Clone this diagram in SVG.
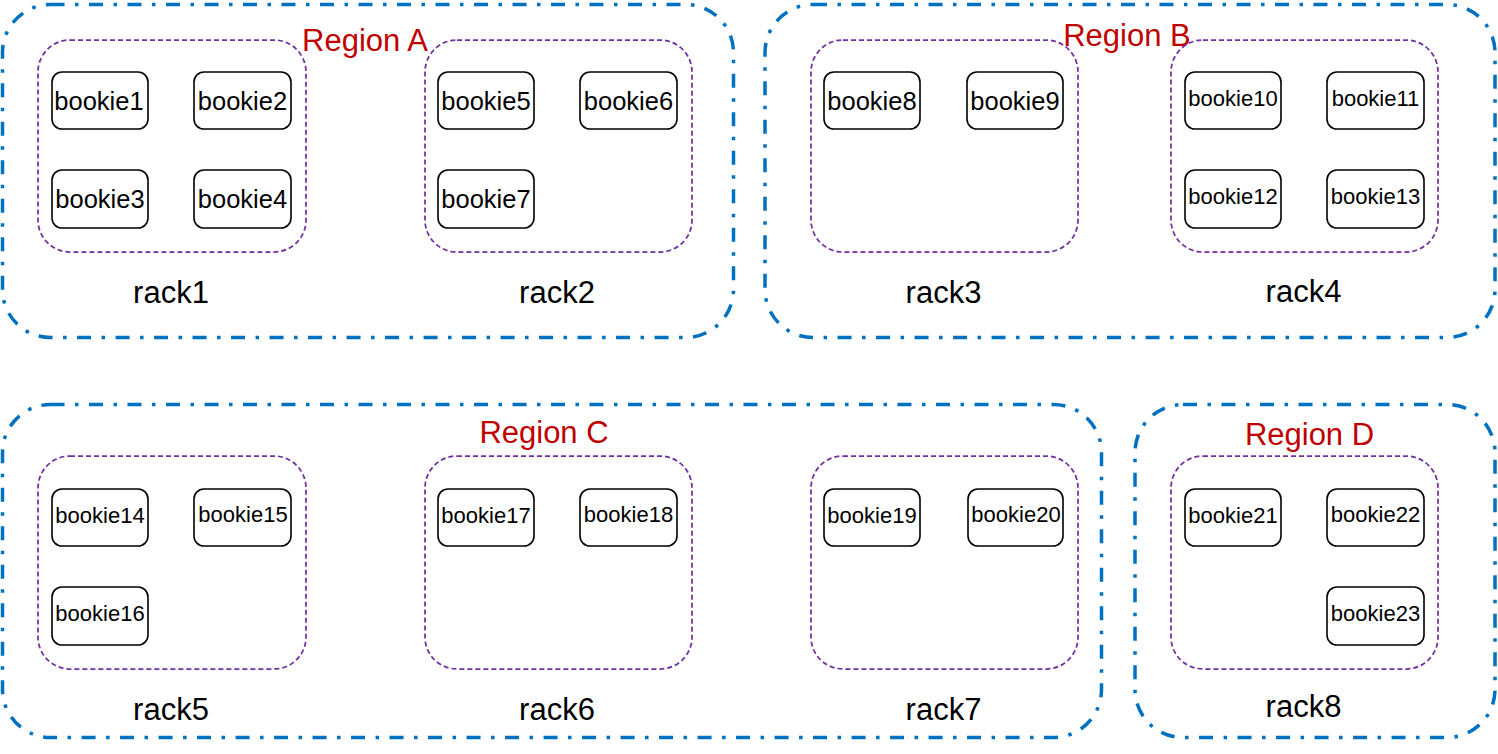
<svg xmlns="http://www.w3.org/2000/svg" width="1498" height="754" viewBox="0 0 1498 754">
<style>
.region{fill:none;stroke:#0070C0;stroke-width:3.5;stroke-dasharray:14 10.5 3.5 10.5}
.rack{fill:none;stroke:#7030A0;stroke-width:1.75;stroke-dasharray:5 3}
.bk{fill:#fff;stroke:#000;stroke-width:1.6}
text{font-family:"Liberation Sans",Arial,sans-serif;text-anchor:middle;fill:#000}
.t1{font-size:25.5px}
.t2{font-size:22px}
.rl{font-size:31px}
.rg{font-size:31px;fill:#C00000}
</style>
<rect width="1498" height="754" fill="#fff"/>
<g id="regions">
<g id="regionA"><rect class="region" x="2.5" y="4.5" width="731" height="333" rx="48"/><text class="rg" x="365" y="51">Region A</text></g>
<g id="regionB"><rect class="region" x="765" y="4.5" width="730" height="333" rx="48"/><text class="rg" x="1127" y="46">Region B</text></g>
<g id="regionC"><rect class="region" x="2.5" y="404.5" width="1099" height="333" rx="48"/><text class="rg" x="544" y="443">Region C</text></g>
<g id="regionD"><rect class="region" x="1135" y="404.5" width="360" height="333" rx="48"/><text class="rg" x="1309.5" y="445">Region D</text></g>
</g>
<g id="racks">
<g id="rack1"><rect class="rack" x="38" y="40" width="268" height="212" rx="32"/><text class="rl" x="171" y="303">rack1</text></g>
<g id="rack2"><rect class="rack" x="425" y="40" width="267" height="212" rx="32"/><text class="rl" x="557" y="303">rack2</text></g>
<g id="rack3"><rect class="rack" x="811" y="40" width="267" height="212" rx="32"/><text class="rl" x="943.5" y="303">rack3</text></g>
<g id="rack4"><rect class="rack" x="1171" y="40" width="267" height="212" rx="32"/><text class="rl" x="1303.5" y="302">rack4</text></g>
<g id="rack5"><rect class="rack" x="38" y="456" width="268" height="213" rx="32"/><text class="rl" x="171" y="720">rack5</text></g>
<g id="rack6"><rect class="rack" x="425" y="456" width="267" height="213" rx="32"/><text class="rl" x="557" y="720">rack6</text></g>
<g id="rack7"><rect class="rack" x="811" y="456" width="267" height="213" rx="32"/><text class="rl" x="943.5" y="720">rack7</text></g>
<g id="rack8"><rect class="rack" x="1171" y="456" width="267" height="213" rx="32"/><text class="rl" x="1303.5" y="717">rack8</text></g>
</g>
<g id="bookies">
<g id="bookie1"><rect class="bk" x="52" y="72" width="96" height="57" rx="10"/><text class="t1" x="99" y="110">bookie1</text></g>
<g id="bookie2"><rect class="bk" x="194" y="72" width="97" height="57" rx="10"/><text class="t1" x="242.5" y="110">bookie2</text></g>
<g id="bookie3"><rect class="bk" x="52" y="170" width="96" height="58" rx="10"/><text class="t1" x="100" y="208">bookie3</text></g>
<g id="bookie4"><rect class="bk" x="194" y="170" width="97" height="58" rx="10"/><text class="t1" x="242.5" y="208">bookie4</text></g>
<g id="bookie5"><rect class="bk" x="438" y="72" width="96" height="57" rx="10"/><text class="t1" x="486" y="110">bookie5</text></g>
<g id="bookie6"><rect class="bk" x="580" y="72" width="97" height="57" rx="10"/><text class="t1" x="628.5" y="110">bookie6</text></g>
<g id="bookie7"><rect class="bk" x="438" y="170" width="96" height="58" rx="10"/><text class="t1" x="486" y="208">bookie7</text></g>
<g id="bookie8"><rect class="bk" x="824" y="72" width="96" height="57" rx="10"/><text class="t1" x="872" y="110">bookie8</text></g>
<g id="bookie9"><rect class="bk" x="967" y="72" width="96" height="57" rx="10"/><text class="t1" x="1015" y="110">bookie9</text></g>
<g id="bookie10"><rect class="bk" x="1185" y="72" width="96" height="57" rx="10"/><text class="t2" x="1233" y="106">bookie10</text></g>
<g id="bookie11"><rect class="bk" x="1327" y="72" width="97" height="57" rx="10"/><text class="t2" x="1375.5" y="106">bookie11</text></g>
<g id="bookie12"><rect class="bk" x="1185" y="170" width="96" height="58" rx="10"/><text class="t2" x="1233" y="204">bookie12</text></g>
<g id="bookie13"><rect class="bk" x="1327" y="170" width="97" height="58" rx="10"/><text class="t2" x="1375.5" y="204">bookie13</text></g>
<g id="bookie14"><rect class="bk" x="52" y="489" width="96" height="57" rx="10"/><text class="t2" x="100" y="523">bookie14</text></g>
<g id="bookie15"><rect class="bk" x="194" y="489" width="97" height="57" rx="10"/><text class="t2" x="243" y="522">bookie15</text></g>
<g id="bookie16"><rect class="bk" x="52" y="587" width="96" height="58" rx="10"/><text class="t2" x="100" y="621">bookie16</text></g>
<g id="bookie17"><rect class="bk" x="438" y="489" width="96" height="57" rx="10"/><text class="t2" x="486" y="523">bookie17</text></g>
<g id="bookie18"><rect class="bk" x="580" y="489" width="97" height="57" rx="10"/><text class="t2" x="628.5" y="522">bookie18</text></g>
<g id="bookie19"><rect class="bk" x="824" y="489" width="96" height="57" rx="10"/><text class="t2" x="872" y="523">bookie19</text></g>
<g id="bookie20"><rect class="bk" x="968" y="489" width="95" height="57" rx="10"/><text class="t2" x="1016" y="522">bookie20</text></g>
<g id="bookie21"><rect class="bk" x="1185" y="489" width="96" height="57" rx="10"/><text class="t2" x="1233" y="523">bookie21</text></g>
<g id="bookie22"><rect class="bk" x="1327" y="489" width="97" height="57" rx="10"/><text class="t2" x="1375.5" y="522">bookie22</text></g>
<g id="bookie23"><rect class="bk" x="1327" y="587" width="97" height="58" rx="10"/><text class="t2" x="1375.5" y="621">bookie23</text></g>
</g>
<g id="connectors"></g>
</svg>
